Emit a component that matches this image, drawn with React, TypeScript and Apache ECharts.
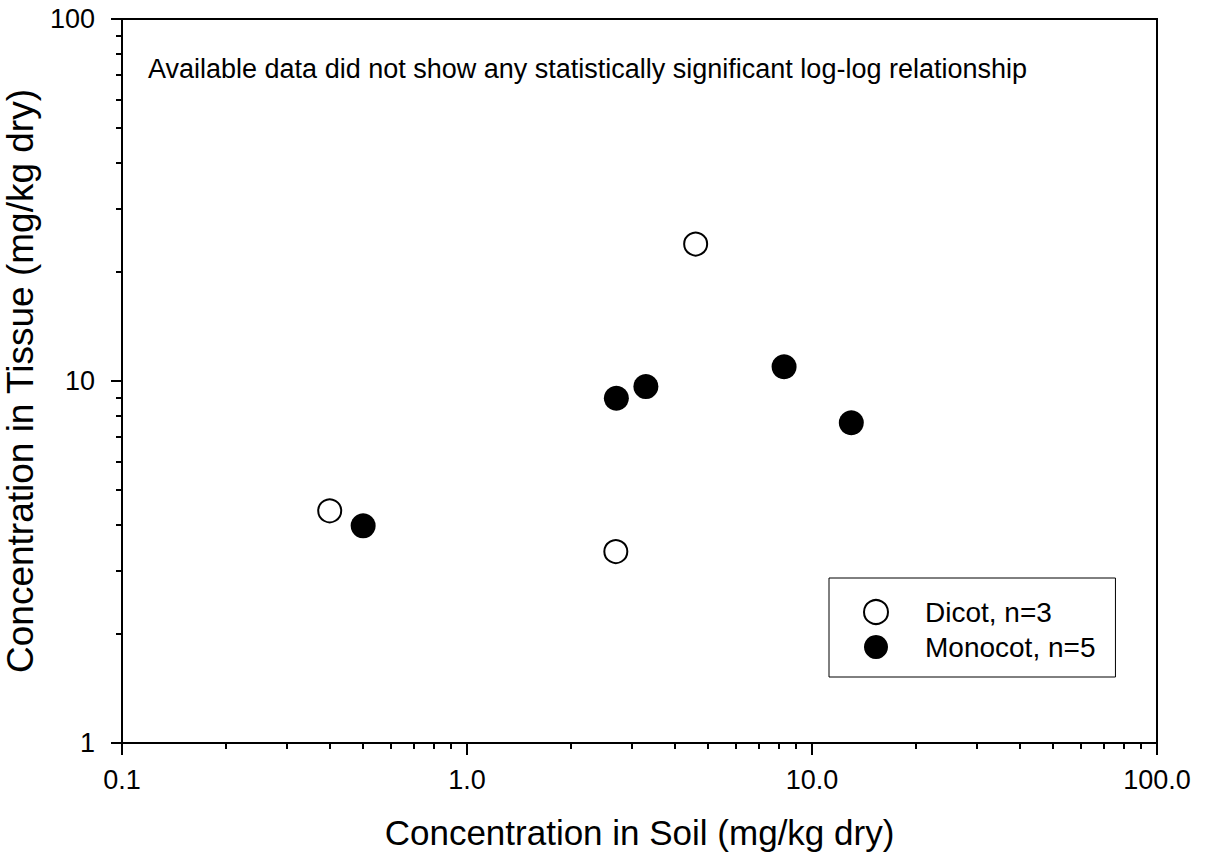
import React, { useEffect, useRef } from "react";
import * as echarts from "echarts";

const dicotSoil = [0.4, 2.7, 4.6];
const dicotTissue = [4.38, 3.38, 23.9];
const monocotSoil = [0.5, 2.71, 3.3, 8.3, 13.0];
const monocotTissue = [3.98, 8.96, 9.65, 10.95, 7.67];

const xMinorTicks = [0.2, 0.3, 0.4, 0.5, 0.6, 0.7, 0.8, 0.9, 2, 3, 4, 5, 6, 7, 8, 9, 20, 30, 40, 50, 60, 70, 80, 90];
const yMinorTicks = [2, 3, 4, 5, 6, 7, 8, 9, 20, 30, 40, 50, 60, 70, 80, 90];

const seriesNames = ["Dicot, n=3", "Monocot, n=5"];
const xTitle = "Concentration in Soil (mg/kg dry)";
const yTitle = "Concentration in Tissue (mg/kg dry)";
const note = "Available data did not show any statistically significant log-log relationship";

const FONT = "'Liberation Sans', Arial, Helvetica, sans-serif";

export default function App() {
  const ref = useRef<HTMLDivElement>(null);
  useEffect(() => {
    if (!ref.current) return;
    const chart = echarts.init(ref.current, undefined, { renderer: "svg" });
    const tickLine = { color: "#000", width: 2 };
    chart.setOption({
      animation: false,
      backgroundColor: "#fff",
      textStyle: { fontFamily: FONT, color: "#000" },
      grid: {
        left: 122,
        top: 19,
        right: 50,
        bottom: 122,
        containLabel: false,
        outerBoundsMode: "none",
        show: true,
        borderColor: "#000",
        borderWidth: 2,
        backgroundColor: "transparent",
      },
      xAxis: [
        {
          type: "log",
          min: 0.1,
          max: 100,
          logBase: 10,
          position: "bottom",
          axisLine: { show: true, onZero: false, lineStyle: tickLine },
          axisTick: { show: true, length: 12, lineStyle: tickLine },
          splitLine: { show: false },
          axisLabel: {
            fontSize: 27,
            fontFamily: FONT,
            color: "#000",
            margin: 23,
            formatter: (v: number) => Number(v).toFixed(1),
          },
          name: xTitle,
          nameLocation: "middle",
          nameGap: 72,
          nameTextStyle: { fontSize: 35, fontFamily: FONT, color: "#000" },
        },
        {
          type: "value",
          min: -1,
          max: 2,
          position: "bottom",
          axisLine: { show: false, onZero: false },
          splitLine: { show: false },
          axisLabel: { show: false },
          axisTick: {
            show: true,
            length: 6,
            lineStyle: tickLine,
            customValues: xMinorTicks.map((v) => Math.log10(v)),
          },
        },
      ],
      yAxis: [
        {
          type: "log",
          min: 1,
          max: 100,
          logBase: 10,
          position: "left",
          axisLine: { show: true, onZero: false, lineStyle: tickLine },
          axisTick: { show: true, length: 11, lineStyle: tickLine },
          splitLine: { show: false },
          axisLabel: {
            fontSize: 27,
            fontFamily: FONT,
            color: "#000",
            margin: 27,
            formatter: (v: number) => String(Math.round(v)),
          },
          name: yTitle,
          nameLocation: "middle",
          nameGap: 77,
          nameTextStyle: { fontSize: 37, fontFamily: FONT, color: "#000" },
        },
        {
          type: "value",
          min: 0,
          max: 2,
          position: "left",
          axisLine: { show: false, onZero: false },
          splitLine: { show: false },
          axisLabel: { show: false },
          axisTick: {
            show: true,
            length: 6,
            lineStyle: tickLine,
            customValues: yMinorTicks.map((v) => Math.log10(v)),
          },
        },
      ],
      legend: {
        orient: "vertical",
        left: 829,
        top: 578,
        padding: [20, 20, 16, 34],
        itemGap: 7,
        itemWidth: 24,
        itemHeight: 24,
        borderColor: "#000",
        borderWidth: 1,
        backgroundColor: "#fff",
        data: seriesNames.map((n) => ({ name: n, icon: "circle" })),
        textStyle: { fontSize: 28, fontFamily: FONT, color: "#000", padding: [0, 0, 0, 32] },
      },
      graphic: [
        {
          type: "text",
          left: 148,
          top: 55,
          style: { text: note, fontSize: 27, fontFamily: FONT, fill: "#000" },
        },
      ],
      series: [
        {
          name: seriesNames[0],
          type: "scatter",
          xAxisIndex: 0,
          yAxisIndex: 0,
          symbol: "circle",
          symbolSize: 23,
          itemStyle: { color: "#fff", borderColor: "#000", borderWidth: 2, opacity: 1 },
          data: dicotSoil.map((x, i) => [x, dicotTissue[i]]),
          z: 3,
        },
        {
          name: seriesNames[1],
          type: "scatter",
          xAxisIndex: 0,
          yAxisIndex: 0,
          symbol: "circle",
          symbolSize: 25,
          itemStyle: { color: "#000", opacity: 1 },
          data: monocotSoil.map((x, i) => [x, monocotTissue[i]]),
          z: 3,
        },
      ],
    });
    return () => chart.dispose();
  }, []);
  return (
    <div
      ref={ref}
      style={{ position: "absolute", left: 0, top: 0, width: 1207, height: 865, background: "#fff" }}
    />
  );
}
